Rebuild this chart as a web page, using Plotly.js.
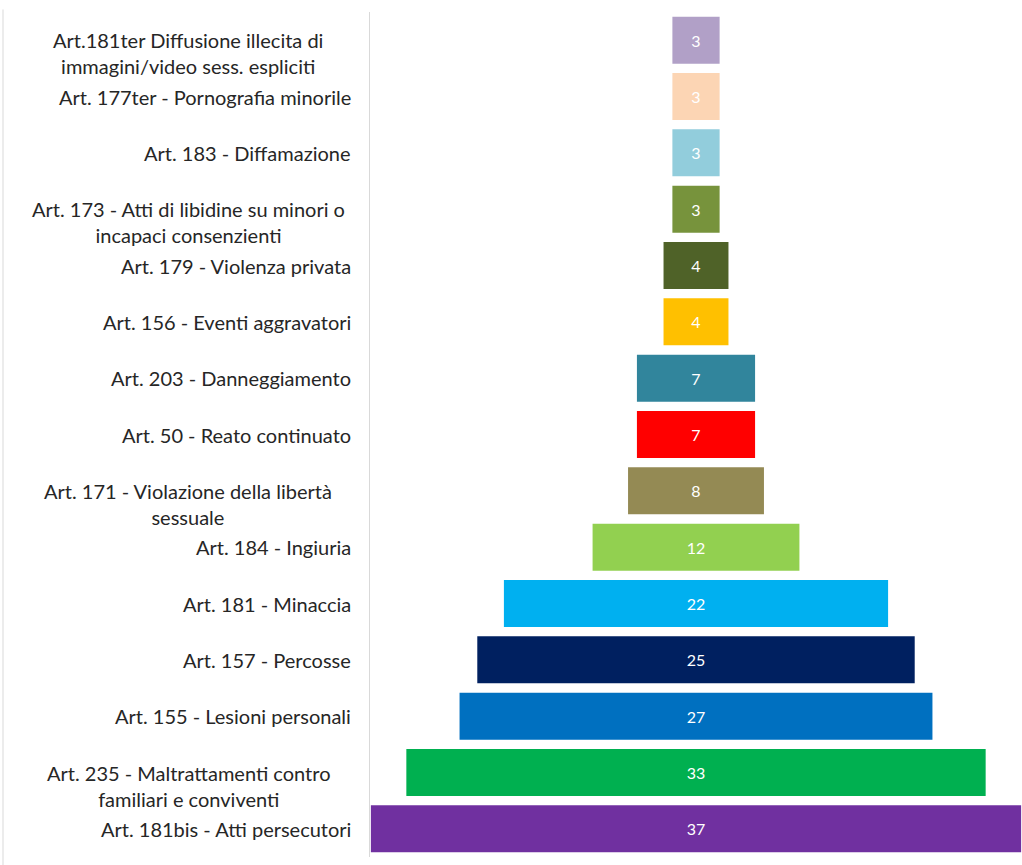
<!DOCTYPE html>
<html>
<head>
<meta charset="utf-8">
<script src="https://cdn.plot.ly/plotly-3.0.1.min.js"></script>
<style>html,body{margin:0;padding:0;background:#fff;}#chart{width:1022px;height:865px;}</style>
</head>
<body>
<div id="chart"></div>
<script>
const categories = [
  "Art.181ter Diffusione illecita di<br>immagini/video sess. espliciti",
  "Art. 177ter - Pornografia minorile",
  "Art. 183 - Diffamazione",
  "Art. 173 - Atti di libidine su minori o<br>incapaci consenzienti",
  "Art. 179 - Violenza privata",
  "Art. 156 - Eventi aggravatori",
  "Art. 203 - Danneggiamento",
  "Art. 50 - Reato continuato",
  "Art. 171 - Violazione della libertà<br>sessuale",
  "Art. 184 - Ingiuria",
  "Art. 181 - Minaccia",
  "Art. 157 - Percosse",
  "Art. 155 - Lesioni personali",
  "Art. 235 - Maltrattamenti contro<br>familiari e conviventi",
  "Art. 181bis - Atti persecutori"
];
const values = [3, 3, 3, 3, 4, 4, 7, 7, 8, 12, 22, 25, 27, 33, 37];
const colors = ["#B1A0C7", "#FCD5B4", "#92CDDC", "#77933C", "#4F6228", "#FFC000", "#31859C", "#FF0000",
                "#948A54", "#92D050", "#00B0F0", "#002060", "#0070C0", "#00B050", "#7030A0"];

const FONT = "Lato, 'Open Sans', sans-serif";

const trace = {
  type: "funnel",
  y: categories,
  x: values,
  orientation: "h",
  marker: { color: colors, line: { color: "#ffffff", width: 6 } },
  connector: { visible: false },
  textinfo: "value",
  textposition: "inside",
  insidetextanchor: "middle",
  textfont: { color: "#ffffff", size: 16, family: FONT },
  hoverinfo: "none"
};

const annotations = categories.map(function (c) {
  const wrapped = c.indexOf("<br>") >= 0;
  return {
    xref: "paper", yref: "y",
    x: 0, y: c,
    text: c,
    showarrow: false,
    xanchor: wrapped ? "center" : "right",
    xshift: wrapped ? -182 : -17,
    yanchor: "top",
    yshift: 14,
    align: "center",
    font: { family: FONT, size: 20, color: "#262626" }
  };
});

const layout = {
  width: 1022, height: 865,
  margin: { l: 370, r: 0, t: 12, b: 8 },
  paper_bgcolor: "#ffffff",
  plot_bgcolor: "#ffffff",
  showlegend: false,
  funnelgap: 0.06,
  xaxis: { range: [-18.38, 18.38], visible: false, fixedrange: true },
  yaxis: { range: [categories.length - 0.5, -0.5], autorange: false,
           showticklabels: false, showline: true, linecolor: "#d9d9d9", linewidth: 1,
           showgrid: false, zeroline: false, ticks: "" },
  annotations: annotations,
  shapes: [{
    type: "line", xref: "paper", yref: "paper",
    x0: -367 / 652, x1: -367 / 652, y0: -0.01, y1: 1.003,
    line: { color: "#d9d9d9", width: 1 }
  }]
};

Plotly.newPlot("chart", [trace], layout, { displayModeBar: false, staticPlot: true });
</script>
</body>
</html>
